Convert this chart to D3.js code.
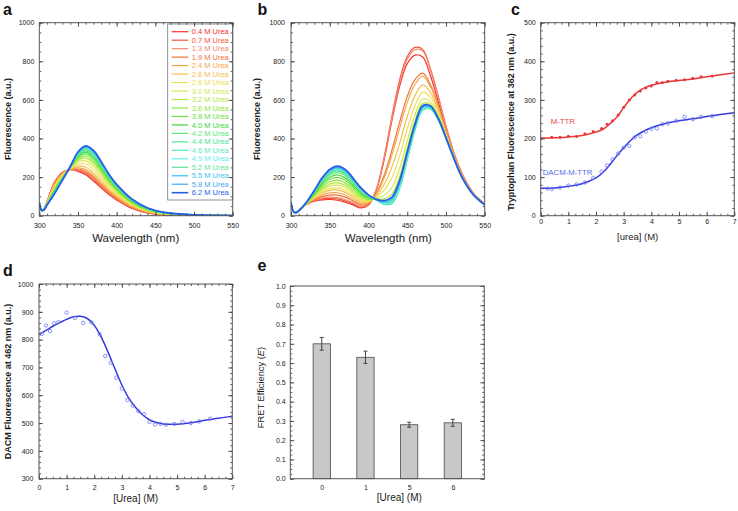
<!DOCTYPE html>
<html><head><meta charset="utf-8">
<script src="https://cdn.jsdelivr.net/npm/d3@7"></script>
<style>
body{margin:0;background:#fff;}
svg{display:block;font-family:"Liberation Sans",Arial,Helvetica,sans-serif;}
</style></head><body>
<svg id="fig" width="738" height="511"></svg>
<script>
// ---------------- DATA ----------------
const ureaLevels = [0.4,0.7,1.3,1.9,2.4,2.6,2.8,3.0,3.2,3.6,3.8,4.0,4.2,4.4,4.6,4.9,5.2,5.5,5.8,6.2];
const seriesColors = ["#f4322a","#f4563a","#f58a70","#f2733a","#f5a64a","#f4c04a","#eee05a","#d8e84a","#b4e83a","#8ee83a",
  "#6ee048","#3cd83c","#5ce87a","#48e49a","#58e8c0","#60f0f0","#62e494","#38c4f0","#4aa4f0","#2a5ee8"];

const wavelengthsA = [300,303,306,310,320,330,340,350,360,370,380,390,400,420,440,460,500,550];
const spectraA = [
  [65,25,35,75,175,225,238,230,212,180,145,110,82,38,14,5,1,0],
  [65,25,35,74,173,223,239,234,218,186,150,114,85,40,15,6,1,0],
  [65,25,35,73,170,222,239,238,224,193,156,118,88,42,16,6,1,0],
  [66,25,34,73,168,220,240,242,230,199,161,123,92,44,17,7,1,0],
  [66,26,34,71,164,218,241,248,239,208,169,129,96,46,19,7,2,0],
  [66,26,34,70,160,215,242,256,251,221,180,137,103,50,21,8,2,0],
  [67,26,33,68,153,210,244,267,268,239,195,149,112,55,24,10,2,0],
  [67,26,33,65,147,206,246,278,284,256,210,160,120,61,26,11,2,0],
  [68,27,32,64,141,202,248,287,298,270,222,170,128,65,29,12,3,1],
  [68,27,32,62,137,199,249,294,308,281,231,177,133,68,31,13,3,1],
  [69,27,32,61,133,197,250,301,319,292,241,185,139,71,32,14,3,1],
  [69,27,31,60,130,194,251,307,328,302,249,191,144,74,34,15,3,1],
  [69,27,31,59,127,192,252,312,335,310,256,196,148,77,35,16,3,1],
  [69,28,31,58,124,191,253,316,341,316,261,200,151,78,36,16,4,1],
  [70,28,30,57,122,189,253,320,347,322,266,204,154,80,37,17,4,1],
  [70,28,30,56,120,188,254,323,352,327,271,208,156,82,38,17,4,1],
  [70,28,30,57,121,189,253,321,349,324,268,206,155,81,38,17,4,1],
  [70,28,30,56,119,187,254,325,355,330,273,210,158,83,39,17,4,1],
  [70,28,30,55,117,186,255,328,359,335,278,213,160,84,40,18,4,1],
  [70,28,30,55,116,185,255,330,362,338,280,215,162,85,40,18,4,1]
];

const wavelengthsB = [300,303,306,310,320,330,340,350,360,370,380,390,400,410,420,430,440,450,460,470,480,490,500,510,520,535,550];
const spectraB = [
  [65,22,17,30,58,75,82,84,80,70,56,40,55,129,286,487,668,787,832,822,725,591,444,315,215,114,59],
  [65,22,17,30,58,77,87,90,87,77,62,44,57,135,300,510,700,825,872,862,760,620,465,330,225,120,62],
  [65,22,17,30,59,79,91,96,94,84,67,48,59,134,293,498,684,810,860,853,754,617,463,329,224,120,62],
  [66,22,17,29,60,83,99,107,107,96,77,56,63,114,207,336,482,617,705,739,679,572,440,317,217,116,60],
  [66,22,17,29,61,87,107,118,119,107,87,63,67,111,193,311,450,587,681,722,668,565,436,316,215,115,59],
  [67,22,16,29,62,92,116,131,133,121,98,72,71,104,160,249,372,513,622,678,639,548,427,311,212,114,58],
  [67,22,16,28,62,95,123,140,144,131,106,78,74,97,131,195,305,449,570,640,614,533,419,307,210,112,57],
  [67,22,16,28,63,99,132,153,158,145,117,86,78,91,105,145,242,389,523,605,591,519,412,304,207,111,57],
  [68,22,16,27,64,103,140,164,170,157,127,94,82,87,87,112,201,350,491,582,576,510,407,301,206,110,56],
  [68,22,16,27,65,107,149,176,184,170,138,102,86,85,76,91,175,325,471,567,566,504,404,300,205,110,56],
  [68,22,16,27,66,112,158,189,199,184,149,110,91,83,69,78,159,310,459,558,560,500,403,299,204,110,56],
  [69,22,16,26,67,116,166,199,211,196,159,118,94,82,65,70,149,300,451,553,557,498,401,298,204,109,56],
  [69,22,15,26,68,120,174,210,223,208,169,125,98,82,63,66,144,295,447,550,555,497,401,298,204,109,56],
  [69,22,15,26,68,122,179,218,232,216,176,130,101,81,60,62,138,290,443,547,553,496,400,298,203,109,56],
  [70,22,15,26,69,125,184,224,239,223,181,135,103,81,61,64,141,293,445,548,554,496,400,298,204,109,56],
  [70,22,15,25,69,126,187,229,245,228,185,138,104,82,65,70,149,300,451,553,557,498,401,298,204,109,56],
  [69,22,15,26,69,124,183,223,238,221,180,133,102,83,69,78,159,310,459,558,560,500,403,299,204,110,56],
  [70,22,15,25,69,127,189,232,248,232,188,140,105,84,71,83,164,315,463,561,562,502,403,299,204,110,56],
  [70,22,15,25,70,128,192,235,252,235,191,142,106,85,76,91,175,325,471,567,566,504,404,300,205,110,56],
  [70,22,15,25,70,130,195,240,257,240,195,145,108,85,78,95,180,330,475,570,568,505,405,300,205,110,56]
];

// panel c
const ureaC_red = [0.4,0.7,1.0,1.3,1.6,1.9,2.2,2.4,2.6,2.8,3.0,3.2,3.4,3.6,3.8,4.0,4.2,4.4,4.6,4.9,5.2,5.5,5.8,6.2];
const mttrPoints = [203,203,206,205,212,218,226,237,246,261,281,300,313,323,331,336,345,345,348,351,352,356,360,362];
const ureaC_blue = [0.25,0.4,0.7,1.0,1.3,1.6,1.9,2.2,2.4,2.6,2.8,3.0,3.2,3.4,3.6,3.8,4.0,4.2,4.4,4.6,4.9,5.2,5.5,5.8,6.2];
const dacmMttrPoints = [70,69,73,78,81,86,98,114,130,146,161,176,181,203,206,218,225,226,237,239,246,256,250,256,258];
const fitX_C = [0,0.5,1,1.5,2,2.25,2.5,2.75,3,3.25,3.5,3.75,4,4.5,5,5.5,6,6.5,7];
const fitC_red = [201,202,204,208,217,224,238,255,280,303,320,331,338,346,350,354,360,365,370];
const fitC_blue = [71,72,76,83,98,112,132,155,176,195,210,220,228,239,246,251,257,262,267];

// panel d
const ureaD = [0.1,0.25,0.4,0.55,0.7,1.0,1.3,1.6,1.9,2.2,2.4,2.6,2.8,3.0,3.2,3.4,3.6,3.8,4.0,4.2,4.4,4.6,4.9,5.2,5.5,5.8,6.2];
const dacmD = [820,851,831,859,863,897,878,860,862,819,741,717,663,624,583,563,543,532,504,495,497,494,497,504,500,506,516];
const fitX_D = [0,0.25,0.5,0.75,1,1.25,1.5,1.75,2,2.25,2.5,2.75,3,3.25,3.5,3.75,4,4.25,4.5,5,5.5,6,6.5,7];
const fitD = [819,833,848,861,873,882,884,876,852,810,755,695,637,590,556,530,512,502,497,496,501,510,517,525];

// panel e
const fretCats = ["0","1","5","6"];
const fretVals = [0.70,0.63,0.28,0.29];
const fretErr = [0.033,0.032,0.013,0.018];

// ---------------- DRAWING ----------------
const svg = d3.select("#fig");
const TICK = "#333";
const FONT_TICK = 7;
let clipId = 0;

function put(g, axis, tx, ty) {
  const a = g.append("g").attr("transform", `translate(${tx},${ty})`).call(axis);
  a.select(".domain").remove();
  a.attr("font-size", null).attr("font-family", null);
  a.selectAll("line").attr("stroke", TICK).attr("stroke-width", 0.8);
  a.selectAll("text").attr("fill", "#1a1a1a").style("font-size", FONT_TICK + "px");
  return a;
}
function range(a, b, s) { const r = []; for (let v = a; v <= b + 1e-9; v += s) r.push(+v.toFixed(4)); return r; }

function panelAxes(g, x, y, o) {
  const [xa, xb] = x.range(); const [yb, ya] = y.range();
  if (o.xMajor) {
    put(g, d3.axisBottom(x).tickValues(o.xMinor).tickSize(-2).tickFormat(""), 0, yb);
    put(g, d3.axisTop(x).tickValues(o.xMinor).tickSize(-2).tickFormat(""), 0, ya);
    put(g, d3.axisBottom(x).tickValues(o.xMajor).tickSize(-4).tickPadding(o.xPad).tickFormat(o.xFmt), 0, yb);
    put(g, d3.axisTop(x).tickValues(o.xMajor).tickSize(-4).tickFormat(""), 0, ya);
  }
  put(g, d3.axisLeft(y).tickValues(o.yMinor).tickSize(-2).tickFormat(""), xa, 0);
  put(g, d3.axisRight(y).tickValues(o.yMinor).tickSize(-2).tickFormat(""), xb, 0);
  put(g, d3.axisLeft(y).tickValues(o.yMajor).tickSize(-4).tickPadding(o.yPad).tickFormat(o.yFmt), xa, 0);
  put(g, d3.axisRight(y).tickValues(o.yMajor).tickSize(-4).tickFormat(""), xb, 0);
  g.append("rect").attr("x", xa).attr("y", ya).attr("width", xb - xa).attr("height", yb - ya)
    .attr("fill", "none").attr("stroke", "#555").attr("stroke-width", 1);
}
function clipFor(g, x, y) {
  const id = "clip" + (clipId++);
  const [xa, xb] = x.range(); const [yb, ya] = y.range();
  g.append("clipPath").attr("id", id).append("rect").attr("x", xa).attr("y", ya).attr("width", xb - xa).attr("height", yb - ya);
  return `url(#${id})`;
}
function titleX(txt, cx, by, fs) {
  svg.append("text").attr("x", cx).attr("y", by).attr("text-anchor", "middle")
    .style("font-size", fs + "px").attr("fill", "#1a1a1a").text(txt);
}
function titleY(txt, cx, cy, fs, bold) {
  return svg.append("text").attr("transform", `translate(${cx},${cy}) rotate(-90)`).attr("text-anchor", "middle")
    .attr("dominant-baseline", "central").style("font-size", fs + "px").style("font-weight", bold ? "bold" : "normal")
    .attr("fill", "#1a1a1a").text(txt);
}
function letter(t, x, y) {
  svg.append("text").attr("x", x).attr("y", y).style("font-size", "16px").style("font-weight", "bold").attr("fill", "#111").text(t);
}
const spectrumWidth = (i, n) => (i === n - 1 ? 1.8 : 1.2);

// ---- Panel a ----
{
  const g = svg.append("g");
  const x = d3.scaleLinear().domain([300, 550]).range([39.3, 232.7]);
  const y = d3.scaleLinear().domain([0, 1000]).range([215.7, 22.7]);
  const cp = clipFor(g, x, y);
  const line = d3.line().x((d, i) => x(wavelengthsA[i])).y(d => y(d)).curve(d3.curveCatmullRom.alpha(0.5));
  g.append("g").attr("clip-path", cp).selectAll("path").data(spectraA).join("path")
    .attr("d", line).attr("fill", "none").attr("stroke", (d, i) => seriesColors[i])
    .attr("stroke-width", (d, i) => spectrumWidth(i, spectraA.length));
  // legend
  const lg = g.append("g");
  lg.append("rect").attr("x", 167.7).attr("y", 24).attr("width", 232.7 - 167.7).attr("height", 176)
    .attr("fill", "#fff").attr("stroke", "#777").attr("stroke-width", 0.8);
  const ly = d3.scalePoint().domain(d3.range(ureaLevels.length)).range([31.7, 192.7]);
  ureaLevels.forEach((u, i) => {
    lg.append("line").attr("x1", 171.7).attr("x2", 188.3).attr("y1", ly(i)).attr("y2", ly(i))
      .attr("stroke", seriesColors[i]).attr("stroke-width", i === ureaLevels.length - 1 ? 1.6 : 1.2);
    lg.append("text").attr("x", 191.7).attr("y", ly(i)).attr("dy", "0.35em").style("font-size", "7.5px")
      .attr("fill", seriesColors[i]).text(d3.format(".1f")(u) + " M Urea");
  });
  panelAxes(g, x, y, { xMajor: range(300, 550, 50), xMinor: range(300, 550, 10), xPad: 7, xFmt: d3.format("d"),
    yMajor: range(0, 1000, 200), yMinor: range(0, 1000, 50), yPad: 5, yFmt: d3.format("d") });
  titleX("Wavelength (nm)", 135.7, 242, 11.5);
  titleY("Fluorescence (a.u.)", 7.5, 119, 9, true);
  letter("a", 3, 14.5);
}

// ---- Panel b ----
{
  const g = svg.append("g");
  const x = d3.scaleLinear().domain([300, 550]).range([291, 484.7]);
  const y = d3.scaleLinear().domain([0, 1000]).range([215.7, 22.7]);
  const cp = clipFor(g, x, y);
  const line = d3.line().x((d, i) => x(wavelengthsB[i])).y(d => y(d)).curve(d3.curveCatmullRom.alpha(0.5));
  g.append("g").attr("clip-path", cp).selectAll("path").data(spectraB).join("path")
    .attr("d", line).attr("fill", "none").attr("stroke", (d, i) => seriesColors[i])
    .attr("stroke-width", (d, i) => spectrumWidth(i, spectraB.length));
  panelAxes(g, x, y, { xMajor: range(300, 550, 50), xMinor: range(300, 550, 10), xPad: 7, xFmt: d3.format("d"),
    yMajor: range(0, 1000, 200), yMinor: range(0, 1000, 50), yPad: 6, yFmt: d3.format("d") });
  titleX("Wavelength (nm)", 388.3, 242, 11.5);
  titleY("Fluorescence (a.u.)", 257, 119, 9, true);
  letter("b", 257.5, 14.5);
}

// ---- Panel c ----
{
  const g = svg.append("g");
  const x = d3.scaleLinear().domain([0, 7]).range([540.7, 734.3]);
  const y = d3.scaleLinear().domain([0, 500]).range([215.7, 22.7]);
  const line = d3.line().x((d, i) => x(fitX_C[i])).y(d => y(d)).curve(d3.curveCatmullRom.alpha(0.5));
  g.append("path").datum(fitC_red).attr("d", line).attr("fill", "none").attr("stroke", "#e8383a").attr("stroke-width", 1.5);
  g.append("path").datum(fitC_blue).attr("d", line).attr("fill", "none").attr("stroke", "#3838e0").attr("stroke-width", 1.5);
  g.selectAll("circle.r").data(mttrPoints).join("circle").attr("class", "r")
    .attr("cx", (d, i) => x(ureaC_red[i])).attr("cy", d => y(d)).attr("r", 1.5).attr("fill", "#e8383a");
  g.selectAll("circle.b").data(dacmMttrPoints).join("circle").attr("class", "b")
    .attr("cx", (d, i) => x(ureaC_blue[i])).attr("cy", d => y(d)).attr("r", 1.7)
    .attr("fill", "none").attr("stroke", "#6a78f0").attr("stroke-width", 0.8);
  g.append("text").attr("x", 550.7).attr("y", 124).style("font-size", "7.8px").attr("fill", "#f04444").text("M-TTR");
  g.append("text").attr("x", 542.7).attr("y", 175).style("font-size", "7.8px").attr("fill", "#5a6cf0").text("DACM-M-TTR");
  panelAxes(g, x, y, { xMajor: range(0, 7, 1), xMinor: range(0, 7, 0.25), xPad: 3.5, xFmt: d3.format("d"),
    yMajor: range(0, 500, 100), yMinor: range(0, 500, 20), yPad: 5, yFmt: d3.format("d") });
  titleX("[urea] (M)", 637.7, 240, 9.5);
  titleY("Tryptophan Fluorescence at 362 nm (a.u.)", 510.5, 122, 9, true);
  letter("c", 511, 14.5);
}

// ---- Panel d ----
{
  const g = svg.append("g");
  const x = d3.scaleLinear().domain([0, 7]).range([39, 232.3]);
  const y = d3.scaleLinear().domain([300, 1000]).range([478.7, 284]);
  const line = d3.line().x((d, i) => x(fitX_D[i])).y(d => y(d)).curve(d3.curveCatmullRom.alpha(0.5));
  g.append("path").datum(fitD).attr("d", line).attr("fill", "none").attr("stroke", "#3838e0").attr("stroke-width", 1.5);
  g.selectAll("circle").data(dacmD).join("circle")
    .attr("cx", (d, i) => x(ureaD[i])).attr("cy", d => y(d)).attr("r", 1.7)
    .attr("fill", "none").attr("stroke", "#6a78f0").attr("stroke-width", 0.8);
  panelAxes(g, x, y, { xMajor: range(0, 7, 1), xMinor: range(0, 7, 0.25), xPad: 6, xFmt: d3.format("d"),
    yMajor: range(300, 1000, 100), yMinor: range(300, 1000, 20), yPad: 5.7, yFmt: d3.format("d") });
  titleX("[Urea] (M)", 135.7, 502, 10);
  titleY("DACM Fluorescence at 462 nm (a.u.)", 7.5, 381.5, 9, true);
  letter("d", 3, 276);
}

// ---- Panel e ----
{
  const g = svg.append("g");
  const x = d3.scalePoint().domain(fretCats).range([290.3, 484.3]).padding(0.72);
  const y = d3.scaleLinear().domain([0, 1]).range([478.7, 286]);
  const bw = 17.3;
  g.selectAll("rect.bar").data(fretVals).join("rect").attr("class", "bar")
    .attr("x", (d, i) => x(fretCats[i]) - bw / 2).attr("y", d => y(d))
    .attr("width", bw).attr("height", d => y(0) - y(d))
    .attr("fill", "#c8c8c8").attr("stroke", "#4a4a4a").attr("stroke-width", 0.8);
  const eb = g.append("g").attr("stroke", "#333").attr("stroke-width", 0.9);
  fretVals.forEach((v, i) => {
    const cx = x(fretCats[i]);
    eb.append("line").attr("x1", cx).attr("x2", cx).attr("y1", y(v - fretErr[i])).attr("y2", y(v + fretErr[i]));
    eb.append("line").attr("x1", cx - 2).attr("x2", cx + 2).attr("y1", y(v - fretErr[i])).attr("y2", y(v - fretErr[i]));
    eb.append("line").attr("x1", cx - 2).attr("x2", cx + 2).attr("y1", y(v + fretErr[i])).attr("y2", y(v + fretErr[i]));
  });
  put(g, d3.axisBottom(x).tickSize(0).tickPadding(6.5), 0, 478.7);
  panelAxes(g, d3.scaleLinear().range([290.3, 484.3]), y, {
    yMajor: range(0, 1, 0.1), yMinor: range(0, 1, 0.025), yPad: 4.6, yFmt: d3.format(".1f") });
  titleX("[Urea] (M)", 399.3, 500.5, 10);
  const t = titleY("", 261.2, 387.5, 9.3, false);
  t.append("tspan").text("FRET Efficiency (");
  t.append("tspan").style("font-style", "italic").text("E");
  t.append("tspan").text(")");
  letter("e", 257.5, 270.5);
}
</script>
</body></html>
